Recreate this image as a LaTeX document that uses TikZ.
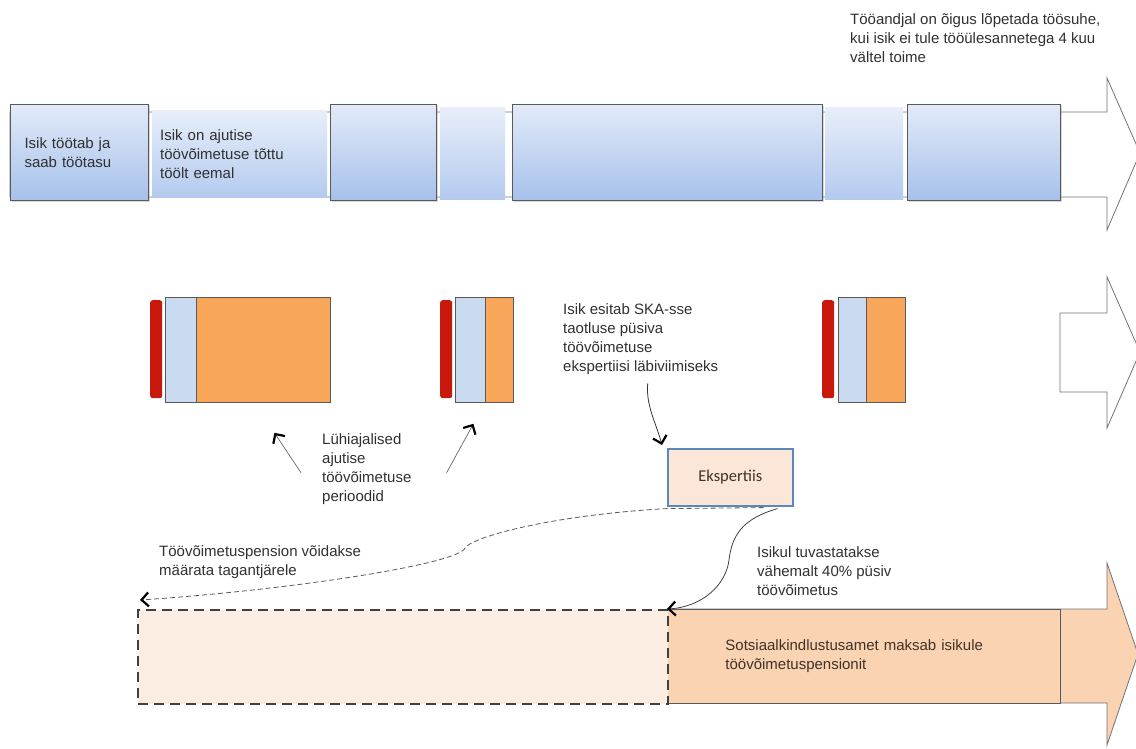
\documentclass[tikz,border=0pt]{standalone}
\usepackage{fontspec}
\setmainfont{Liberation Sans}
\newfontfamily\calfont{Carlito}
\usepackage{tikz}
\usetikzlibrary{calc,arrows.meta,positioning,shadows}
\definecolor{edgec}{HTML}{595959}
\definecolor{bluet}{HTML}{E2EAF8}
\definecolor{blueb}{HTML}{A6C1EC}
\definecolor{paleb}{HTML}{C9DAF1}
\definecolor{orangec}{HTML}{F8A75A}
\definecolor{redc}{HTML}{C8180C}
\definecolor{peach}{HTML}{FAD3B3}
\definecolor{paleo}{HTML}{FCEDE2}
\definecolor{ekspf}{HTML}{FBE6D8}
\definecolor{ekspd}{HTML}{5B87BA}
\definecolor{txtc}{HTML}{303030}
\definecolor{pensc}{HTML}{403228}
\tikzset{
  txt/.style={font=\fontsize{15}{19}\selectfont,text=txtc,align=left,inner sep=0pt},
  tbox/.style={draw=edgec,line width=1pt,top color=bluet,bottom color=blueb,txt,
    drop shadow={shadow xshift=1.2pt,shadow yshift=-1.2pt,opacity=.3}},
  gbox/.style={top color=bluet!80!white,bottom color=blueb!85!white,txt},
  bigar/.style={draw=edgec!85!white,line width=.8pt,fill=white},
  redbar/.style={fill=redc,rounded corners=2.5pt},
  lbox/.style={draw=edgec,line width=.8pt,fill=paleb},
  obox/.style={draw=edgec,line width=.8pt,fill=orangec},
  ebox/.style={draw=ekspd,line width=1.6pt,fill=ekspf,font=\calfont\fontsize{16.5}{19}\selectfont,text=pensc},
  pbox/.style={draw=edgec,line width=.8pt,fill=peach,txt,text=pensc},
  dbox/.style={draw=black!75,line width=1.8pt,dash pattern=on 10pt off 6pt,fill=paleo},
  tip/.style={-{Straight Barb[length=7pt,width=14pt,line width=2.2pt,color=black]}},
  lab/.style={tip,line width=.7pt,draw=gray!80!black},
  wav/.style={tip,line width=.8pt,draw=black!80},
  back/.style={tip,line width=.8pt,draw=gray!70!black,dash pattern=on 5pt off 3pt},
  gives/.style={tip,line width=.8pt,draw=black!75}
}
% box from corner (#3,#4) to corner (#5,#6)
\newcommand{\blk}[7]{%
  \pgfmathsetmacro{\blkw}{#5-#3}
  \pgfmathsetmacro{\blkh}{#6-#4}
  \node[#1,anchor=north west,minimum width=\blkw pt,minimum height=\blkh pt] (#2) at (#3,#4) {#7};
}

\begin{document}
\begin{tikzpicture}[x=1pt,y=-1pt]
\useasboundingbox (0,0) rectangle (1136,749);

% work timeline
\draw[bigar] (10,112) -- (1107,112) -- (1107,78) -- (1140,153) -- (1107,230) -- (1107,197) -- (10,197) -- cycle;
\blk{gbox,text width=159pt,inner xsep=8pt}{away}{152}{110}{327}{197}{Isik on ajutise\\töövõimetuse tõttu\\töölt eemal}
\blk{gbox}{g2}{440}{107}{505}{199}{}
\blk{gbox}{g3}{825}{107}{903}{199}{}
\blk{tbox,text width=110pt,inner xsep=14pt}{work}{10}{104}{148}{200}{Isik töötab ja\\saab töötasu}
\blk{tbox}{w2}{330}{104}{436}{200}{}
\blk{tbox}{w3}{512}{104}{822}{200}{}
\blk{tbox}{w4}{907}{104}{1060}{200}{}
\node[txt,anchor=north west] (notice) at (850,13) {Tööandjal on õigus lõpetada töösuhe,\\kui isik ei tule tööülesannetega 4 kuu\\vältel toime};

% short periods
\draw[bigar] (1060,313) -- (1107,313) -- (1107,277) -- (1140,352) -- (1107,428) -- (1107,392) -- (1060,392) -- cycle;
\foreach \n/\a/\b/\c/\d in {1/150/165/196/330,2/440/455/485/513,3/822/838/866/905}{
  \blk{redbar}{r\n}{\a}{300}{\a+12}{398}{}
  \blk{lbox}{c\n}{\b}{297}{\c}{402}{}
  \blk{obox}{o\n}{\c}{297}{\d}{402}{}
}
\node[txt,anchor=north west] (short) at (322,433) {Lühiajalised\\ajutise\\töövõimetuse\\perioodid};
\draw[lab] ($(short.west)+(-21,4)$) -- ($(o1.south)+(11,30)$);
\draw[lab] ($(short.east)+(35,4)$) -- ($(c2.south)+(3,21)$);

% expertise
\node[txt,anchor=north west] (apply) at (563,303) {Isik esitab SKA-sse\\taotluse püsiva\\töövõimetuse\\ekspertiisi läbiviimiseks};
\blk{ebox}{eksp}{667}{448}{792}{505}{Ekspertiis}
\draw[wav] ($(apply.south)+(7,9)$) .. controls +(-2,22) and +(-6,-22) .. ($(eksp.north west)+(-5,-3)$);

% pension
\draw[bigar,fill=peach] (667,609) -- (1107,609) -- (1107,563) -- (1138,654) -- (1107,745) -- (1107,703) -- (667,703) -- cycle;
\blk{pbox,text width=277pt,inner xsep=58pt}{pens}{667}{609}{1060}{703}{Sotsiaalkindlustusamet maksab isikule\\töövõimetuspensionit}
\blk{dbox}{past}{137}{609}{667}{703}{}
\node[txt,anchor=north west] (retro) at (159,545) {Töövõimetuspension võidakse\\määrata tagantjärele};
\node[txt,anchor=north west] (perm) at (757,546) {Isikul tuvastatakse\\vähemalt 40\% püsiv\\töövõimetus};
\draw[back] ($(eksp.south east)+(-30,1)$) -- ($(eksp.south west)+(0,2)$) .. controls +(-110,6) and +(8,-12) .. (465,548)
  .. controls +(-6,16) and +(150,-10) .. ($(past.north west)+(3,-9)$);
\draw[gives] ($(eksp.south east)+(-16,2)$) .. controls +(-35,10) and +(3,-25) .. (729,560)
  .. controls +(-3,25) and +(35,-2) .. (pens.north west);
\end{tikzpicture}
\end{document}
